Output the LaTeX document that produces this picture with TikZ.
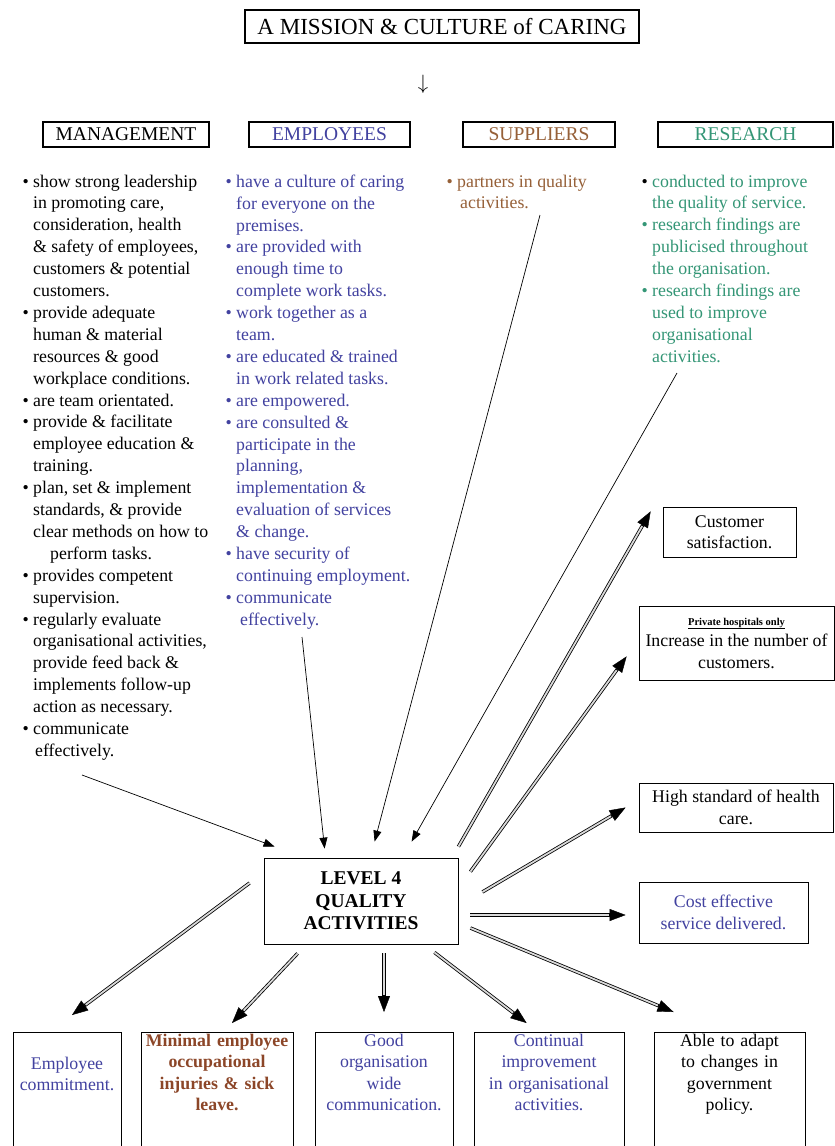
\documentclass[tikz,border=0pt]{standalone}
\usepackage{fontspec}
\setmainfont{Liberation Serif}
\usetikzlibrary{arrows.meta}

\definecolor{emplblue}{RGB}{66,66,160}
\definecolor{suppbrown}{RGB}{150,96,56}
\definecolor{resgreen}{RGB}{52,150,118}
\definecolor{injbrown}{RGB}{140,70,40}

\tikzset{
    headbox/.style={draw, line width=1.1pt, inner sep=0pt,
        font=\fontsize{19.5}{22}\selectfont}
}
\tikzset{
    list/.style={anchor=north west, inner sep=0pt, align=left,
        font=\fontsize{17.8}{21.9}\selectfont},
    outbox/.style={draw, line width=0.8pt, inner sep=0pt, align=center,
        font=\fontsize{17.8}{21.5}\selectfont},
    bottombox/.style={outbox, anchor=north, text height=14pt, text depth=125pt}
}
\tikzset{
    inarrow/.style={line width=0.7pt, -{Triangle[length=11pt,width=8pt]}},
    outarrow/.style={line width=3.4pt,
        -{Triangle[length=16pt,width=12pt,line width=0.4pt,fill=black]},
        postaction={draw=gray!30, line width=1.8pt, shorten >=17pt, -}}
}
\newcommand{\bul}{\llap{\textbullet\ }}

\begin{document}
\begin{tikzpicture}[x=1pt, y=-1pt]
	\fill[white] (0,0) rectangle (835,1146);
	\useasboundingbox (0,0) rectangle (835,1146);

	\node[headbox, minimum width=394pt, minimum height=33pt,
		font=\fontsize{23}{26}\selectfont] (title) at (442,26.5) {A MISSION \& CULTURE of CARING};
	\node[inner sep=0pt, font=\fontsize{20}{20}\selectfont] (down) at (423,84) {$\downarrow$};

	\node[headbox, minimum width=166pt, minimum height=25pt] (mgmt) at (126,134.5) {MANAGEMENT};
	\node[headbox, minimum width=161pt, minimum height=25pt, text=emplblue] (empl) at (329.5,134.5) {EMPLOYEES};
	\node[headbox, minimum width=152pt, minimum height=25pt, text=suppbrown] (supp) at (539,134.5) {SUPPLIERS};
	\node[headbox, minimum width=175pt, minimum height=25pt, text=resgreen] (res) at (745.5,134.5) {RESEARCH};

	\node[list] (mgmtlist) at (33,174.5) {\bul show strong leadership\\
		in promoting care,\\ consideration, health\\ \& safety of employees,\\
		customers \& potential\\ customers.\\
		\bul provide adequate\\ human \& material\\ resources \& good\\ workplace conditions.\\
		\bul are team orientated.\\
		\bul provide \& facilitate\\ employee education \&\\ training.\\
		\bul plan, set \& implement\\ standards, \& provide\\ clear methods on how to\\
		\hspace*{17pt}perform tasks.\\
		\bul provides competent\\ supervision.\\
		\bul regularly evaluate\\ organisational activities,\\ provide feed back \&\\
		implements follow-up\\ action as necessary.\\
		\bul communicate\\ \hspace*{2pt}effectively.};
	\node[list, text=emplblue] (empllist) at (236,174.5) {\bul have a culture of caring\\
		for everyone on the\\ premises.\\
		\bul are provided with\\ enough time to\\ complete work tasks.\\
		\bul work together as a\\ team.\\
		\bul are educated \& trained\\ in work related tasks.\\
		\bul are empowered.\\
		\bul are consulted \&\\ participate in the\\ planning,\\ implementation \&\\
		evaluation of services\\ \& change.\\
		\bul have security of\\ continuing employment.\\
		\bul communicate\\ \hspace*{4pt}effectively.};
	\node[list, text=suppbrown] (supplist) at (457,174.5) {\bul partners in quality\\
		\hspace*{3pt}activities.};
	\node[list, text=resgreen] (reslist) at (652,174.5) {\llap{\color{black}\textbullet\ }conducted to improve\\
		the quality of service.\\
		\bul research findings are\\ publicised throughout\\ the organisation.\\
		\bul research findings are\\ used to improve\\ organisational\\ activities.};

	\node[outbox, minimum width=194pt, minimum height=86pt,
		font=\bfseries\fontsize{19.5}{22.5}\selectfont] (level4) at (361,901) {LEVEL 4\\QUALITY\\ACTIVITIES};

	\node[outbox, minimum width=133pt, minimum height=50pt] (custsat) at (729.5,532) {Customer\\satisfaction.};
	\node[outbox, minimum width=195pt, minimum height=74pt] (private) at (736.5,643)
		{{\fontsize{10.5}{12}\selectfont\bfseries\underline{Private hospitals only}}\\Increase in the number of\\customers.};
	\node[outbox, minimum width=194pt, minimum height=49pt] (highstd) at (736,807.5) {High standard of health\\care.};
	\node[outbox, minimum width=169pt, minimum height=61pt, text=emplblue] (cost) at (723.5,912.5) {Cost effective\\service delivered.};

	\node[bottombox, text width=108pt, text height=37pt, text=emplblue] (commit) at (67,1032) {Employee\\commitment.};
	\node[bottombox, text width=152pt, text=injbrown, font=\bfseries\fontsize{17.8}{21.5}\selectfont] (minimal) at (217,1032)
		{Minimal employee\\occupational\\injuries \& sick\\leave.};
	\node[bottombox, text width=138pt, text=emplblue] (good) at (384,1032) {Good\\organisation\\wide\\communication.};
	\node[bottombox, text width=150pt, text=emplblue] (continual) at (549,1032) {Continual\\improvement\\in organisational\\activities.};
	\node[bottombox, text width=151pt] (able) at (729.5,1032) {Able to adapt\\to changes in\\government\\policy.};

	% inputs
	\coordinate (mgmtfoot) at (82,775);
	\coordinate (emplfoot) at (302,637);
	\coordinate (suppfoot) at (540,215);
	\coordinate (resfoot) at (677,373);
	\draw[inarrow] (mgmtfoot) -- ([shift={(11,-11)}]level4.north west);
	\draw[inarrow] (emplfoot) -- ([shift={(61,-9)}]level4.north west);
	\draw[inarrow] (suppfoot) -- ([shift={(111,-16)}]level4.north west);
	\draw[inarrow] (resfoot) -- ([shift={(148,-16)}]level4.north west);

	% outcomes
	\draw[outarrow] ([shift={(0,-11)}]level4.north east) -- ([shift={(-12,-46)}]custsat.south west);
	\draw[outarrow] ([shift={(12,14)}]level4.north east) -- ([shift={(-12,-24)}]private.south west);
	\draw[outarrow] ([shift={(24,-9)}]level4.east) -- ([shift={(-13,0)}]highstd.west);
	\draw[outarrow] ([shift={(12,14)}]level4.east) -- ([shift={(-13,2.5)}]cost.west);
	\draw[outarrow] ([shift={(12,27)}]level4.east) -- ([shift={(20,-20)}]able.north west);
	\draw[outarrow] ([shift={(-14,-18)}]level4.west) -- ([shift={(5,-17)}]commit.north);
	\draw[outarrow] ([shift={(34,9)}]level4.south west) -- ([shift={(15,-9)}]minimal.north);
	\draw[outarrow] ([shift={(23,9)}]level4.south) -- ([shift={(0,-20)}]good.north);
	\draw[outarrow] ([shift={(-24,8)}]level4.south east) -- ([shift={(53,-9)}]continual.north west);
\end{tikzpicture}
\end{document}
